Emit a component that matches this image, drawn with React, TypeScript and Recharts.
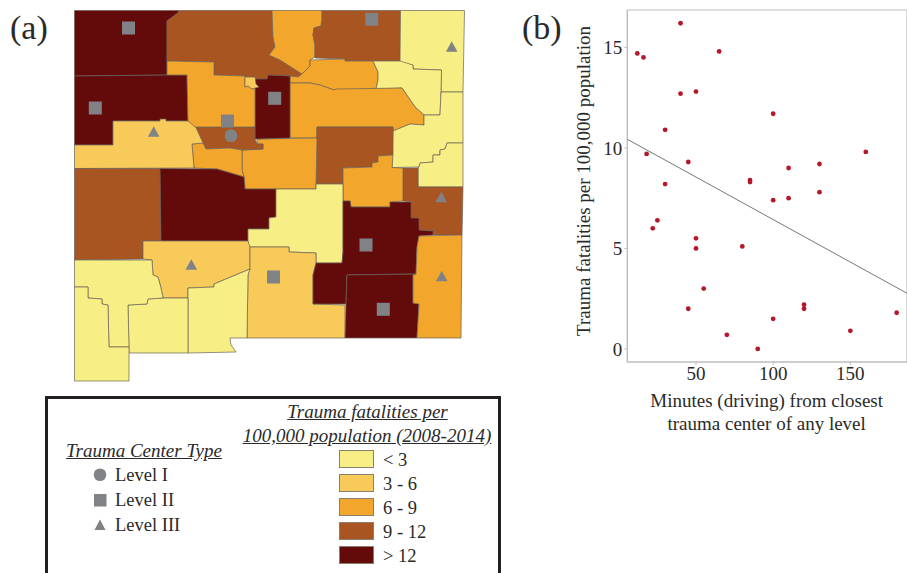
import { ReferenceArea, Scatter, ScatterChart, XAxis, YAxis } from "recharts"

type Pt = [number, number]

const SERIF = "'Liberation Serif', serif"
const INK = "#2a2a2a"
const MARKER = "#808285"

// fatality classes, lowest to highest
const classLabels = ["< 3", "3 - 6", "6 - 9", "9 - 12", "> 12"]
const classColors = ["#F7EF85", "#F8CA5A", "#F3A62C", "#A95522", "#630A0B"]

// county outlines
const sanJuan: Pt[] = [[74.5, 10.5], [179, 10.5], [178, 13], [167, 21], [167, 75], [74.5, 76]]
const rioArriba: Pt[] = [[179, 10.5], [272, 10.5], [273, 37], [275, 47], [269, 55], [280, 60], [302, 74], [298, 77], [290, 76], [268, 75], [267, 79], [255, 79], [245, 79], [245, 76], [214, 75], [214, 62], [167, 61], [167, 21], [178, 13]]
const taos: Pt[] = [[272, 10.5], [322, 10.5], [322, 20], [321, 26], [314, 28], [313, 35], [315, 45], [315, 57], [310, 60], [310, 66], [302, 74], [280, 60], [269, 55], [275, 47], [273, 37]]
const colfax: Pt[] = [[322, 10.5], [400.5, 10.5], [400, 61], [345, 61], [345, 59], [315, 58], [315, 45], [313, 35], [314, 28], [321, 26], [322, 20]]
const union: Pt[] = [[400.5, 10.5], [464.5, 10.5], [463, 92], [441, 92], [441.5, 70], [413, 69], [413, 65], [400, 63]]
const mora: Pt[] = [[310, 60], [345, 59], [345, 61], [373, 61], [378, 72], [378, 80], [376, 89], [336, 90], [334, 90], [320, 85], [310, 83], [290, 83], [290, 76], [298, 77], [302, 74], [310, 66]]
const harding: Pt[] = [[373, 61], [400, 61], [413, 65], [413, 69], [441.5, 70], [441, 92], [440, 115], [424, 115], [415, 107], [402, 88], [376, 89], [378, 80], [378, 72]]
const sanMiguel: Pt[] = [[290, 83], [310, 83], [320, 85], [334, 90], [336, 89], [402, 88], [415, 107], [424, 115], [424, 125], [410, 124], [393, 131], [393, 127], [317, 127], [317, 138], [290, 138]]
const quay: Pt[] = [[441, 92], [463, 92], [463, 143], [447, 143], [445, 149], [440, 150], [440, 155], [433, 155], [433, 162], [420, 163], [419, 167], [392, 167.5], [393, 131], [410, 124], [424, 125], [424, 115], [440, 115]]
const curry: Pt[] = [[447, 143], [463, 143], [463, 187], [418, 187], [418, 168], [419, 167], [420, 163], [433, 162], [433, 155], [440, 155], [440, 150], [445, 149]]
const roosevelt: Pt[] = [[403, 168], [418, 168], [418, 187], [463, 187], [462, 235], [433, 235], [433, 231], [419, 230], [419, 218], [411, 218], [411, 202], [403, 201]]
const deBaca: Pt[] = [[317, 127], [393, 127], [393, 155], [378, 156], [378, 162], [372, 163], [372, 167], [343, 168], [343, 184], [316, 184]]
const guadalupe: Pt[] = [[343, 168], [372, 167], [372, 163], [378, 162], [378, 156], [393, 155], [392, 167.5], [403, 168], [403, 201], [390, 202], [390, 207], [351, 207], [350, 201], [343, 201]]
const torrance: Pt[] = [[257, 139], [317, 138], [316, 184], [316, 189], [245, 189], [244, 177], [242, 170], [242, 150], [263, 149], [263, 144], [257, 144]]
const sandoval: Pt[] = [[255, 79], [267, 79], [268, 75], [290, 76], [290, 138], [257, 139], [255, 139]]
const losAlamos: Pt[] = [[245, 77], [255, 77], [256, 84], [259, 87], [252, 89], [248, 86], [245, 87]]
const bernalillo: Pt[] = [[195, 127], [255, 127], [255, 139], [257, 144], [263, 144], [263, 149], [242, 150], [230, 148], [206, 149], [203, 143]]
const valencia: Pt[] = [[192, 144], [203, 143], [206, 149], [230, 148], [242, 150], [242, 170], [244, 177], [217, 169], [194, 168]]
const mcKinley: Pt[] = [[74.5, 76], [167, 75], [187, 75], [188, 121], [113, 121], [113, 145], [74.5, 145]]
const cibola: Pt[] = [[74.5, 145], [113, 145], [113, 121], [160, 121], [160, 119], [166, 119], [166, 121], [193, 121], [203, 143], [192, 144], [194, 168], [74.5, 168.5]]
const santaFe: Pt[] = [[167, 61], [214, 62], [214, 75], [245, 76], [245, 87], [248, 86], [252, 89], [255, 88], [255, 127], [195, 127], [188, 121], [187, 75], [167, 75]]
const catron: Pt[] = [[74.5, 168.5], [160, 168.5], [161, 241], [143, 241], [143, 259], [74.5, 260]]
const socorro: Pt[] = [[160, 168.5], [217, 169], [244, 177], [245, 189], [276, 189], [276, 217], [269, 218], [269, 229], [248, 229], [248, 241], [161, 241]]
const lincoln: Pt[] = [[276, 189], [316, 189], [316, 184], [343, 184], [343, 252], [342, 263], [316, 263], [316, 253], [289, 252], [289, 247], [248, 247], [248, 229], [269, 229], [269, 218], [276, 217]]
const sierra: Pt[] = [[143, 241], [248, 241], [250, 247], [250, 269], [214, 284], [214, 287], [188, 288], [188, 298], [163, 298], [161, 288], [158, 277], [153, 275], [152, 260], [143, 259]]
const otero: Pt[] = [[250, 247], [289, 247], [289, 252], [316, 253], [316, 263], [313, 275], [313, 304], [345, 305], [345, 338], [247, 338], [248, 275], [250, 269]]
const donaAna: Pt[] = [[188, 288], [214, 287], [214, 284], [250, 269], [248, 275], [247, 338], [230, 338], [231, 345], [236, 352], [188, 353]]
const luna: Pt[] = [[128, 305], [147, 304], [148, 299], [163, 298], [188, 298], [188, 353], [129, 353]]
const grant: Pt[] = [[74.5, 260], [152, 260], [153, 275], [158, 277], [161, 288], [163, 298], [148, 299], [147, 304], [128, 305], [129, 347], [109, 347], [108, 305], [102, 304], [102, 299], [88, 298], [88, 287], [74.5, 287]]
const hidalgo: Pt[] = [[74.5, 287], [88, 287], [88, 298], [102, 299], [102, 304], [108, 305], [109, 347], [129, 347], [129, 381], [74.5, 381]]
const chaves: Pt[] = [[343, 201], [350, 201], [351, 207], [390, 207], [390, 202], [411, 202], [411, 218], [419, 218], [419, 230], [433, 231], [433, 235], [419, 236], [417, 247], [416, 274], [347, 275], [346, 304], [313, 304], [313, 275], [316, 263], [342, 263], [343, 252]]
const eddy: Pt[] = [[347, 275], [416, 274], [413, 275], [413, 303], [419, 304], [417, 338], [345, 338], [346, 304]]
const lea: Pt[] = [[419, 236], [462, 235], [461, 338], [417, 338], [419, 304], [413, 303], [413, 275], [416, 274], [417, 247]]

const counties: [Pt[], number][] = [
  [sanJuan, 4], [rioArriba, 3], [taos, 2], [colfax, 3], [union, 0], [mora, 2], [harding, 0],
  [sanMiguel, 2], [quay, 0], [curry, 0], [roosevelt, 3], [deBaca, 3], [guadalupe, 2],
  [torrance, 2], [sandoval, 4], [bernalillo, 3], [valencia, 2], [mcKinley, 4], [cibola, 1],
  [santaFe, 2], [losAlamos, 1], [catron, 3], [socorro, 4], [lincoln, 0], [sierra, 1], [otero, 1],
  [donaAna, 0], [luna, 0], [grant, 0], [hidalgo, 0], [chaves, 4], [eddy, 4], [lea, 2]
]

// trauma centers
const levelOne: Pt[] = [[231, 135.7]]
const levelTwo: Pt[] = [[128.5, 28], [95.3, 108], [227.5, 121], [274.7, 98.3], [371.7, 19.3], [366, 245], [273.5, 277], [383.3, 309.3]]
const levelThree: Pt[] = [[153.7, 131.5], [451.7, 46.5], [191.3, 264.5], [441.3, 197], [441.7, 276]]

// panel (b)
const minutes = [12, 16, 40, 65, 40, 50, 100, 30, 18, 45, 30, 85, 85, 110, 130, 160, 130, 110, 100, 25, 22, 50, 50, 80, 55, 45, 70, 90, 100, 120, 120, 150, 180]
const fatalities = [14.7, 14.5, 16.2, 14.8, 12.7, 12.8, 11.7, 10.9, 9.7, 9.3, 8.2, 8.4, 8.3, 9.0, 9.2, 9.8, 7.8, 7.5, 7.4, 6.4, 6.0, 5.5, 5.0, 5.1, 3.0, 2.0, 0.7, 0.0, 1.5, 2.2, 2.0, 0.9, 1.8]
const fitMinutes = [5.5, 186.7]
const fitFatalities = [10.43, 2.77]
const xTicks = [50, 100, 150]
const yTicks = [0, 5, 10, 15]
const X_DOMAIN: [number, number] = [5.5, 186.7]
const Y_DOMAIN: [number, number] = [-0.65, 16.86]

const toXY = (pts: Pt[]) => pts.map(([x, y]) => ({ x, y }))
const closed = (pts: Pt[]) => toXY([...pts, pts[0]])

const pointData = minutes.map((x, i) => ({ x, y: fatalities[i] }))
const fitData = fitMinutes.map((x, i) => ({ x, y: fitFatalities[i] }))

const noMark = () => <g />

function SquareMark({ cx, cy }: { cx?: number; cy?: number }) {
  return <rect x={cx! - 6.5} y={cy! - 6.5} width={13} height={13} fill={MARKER} />
}

function CircleMark({ cx, cy }: { cx?: number; cy?: number }) {
  return <circle cx={cx} cy={cy} r={6.4} fill={MARKER} />
}

function TriangleMark({ cx, cy }: { cx?: number; cy?: number }) {
  return <polygon points={`${cx! - 5.8},${cy! + 5.2} ${cx! + 5.8},${cy! + 5.2} ${cx},${cy! - 5.2}`} fill={MARKER} />
}

function RedDot({ cx, cy }: { cx?: number; cy?: number }) {
  return <circle cx={cx} cy={cy} r={2.4} fill="#B5182B" />
}

function XLabel({ viewBox }: { viewBox?: { x: number; width: number } }) {
  const cx = (viewBox?.x ?? 0) + (viewBox?.width ?? 0) / 2 - 0.5
  return (
    <text fontFamily={SERIF} fontSize={19} fill={INK} textAnchor="middle">
      <tspan x={cx} y={407}>Minutes (driving) from closest</tspan>
      <tspan x={cx} y={430}>trauma center of any level</tspan>
    </text>
  )
}

function MapPanel() {
  return (
    <ScatterChart width={510} height={395} margin={{ top: 0, right: 0, bottom: 0, left: 0 }}>
      <XAxis type="number" dataKey="x" domain={[0, 510]} hide />
      <YAxis type="number" dataKey="y" domain={[0, 395]} reversed hide />
      {counties.map(([pts, level], i) => (
        <Scatter
          key={i}
          data={closed(pts)}
          shape={noMark}
          line={{ fill: classColors[level], stroke: "#6b6258", strokeWidth: 0.7 }}
          isAnimationActive={false}
        />
      ))}
      <Scatter data={toXY(levelTwo)} shape={<SquareMark />} isAnimationActive={false} />
      <Scatter data={toXY(levelOne)} shape={<CircleMark />} isAnimationActive={false} />
      <Scatter data={toXY(levelThree)} shape={<TriangleMark />} isAnimationActive={false} />
    </ScatterChart>
  )
}

function ScatterPanel() {
  return (
    <ScatterChart width={397} height={440} margin={{ top: 10, right: 0, bottom: 0, left: 57.3 }}>
      <ReferenceArea x1={X_DOMAIN[0]} x2={X_DOMAIN[1]} y1={Y_DOMAIN[0]} y2={Y_DOMAIN[1]} fill="none" stroke="#bdbdbd" strokeWidth={1.2} />
      <XAxis
        type="number"
        dataKey="x"
        domain={X_DOMAIN}
        ticks={xTicks}
        height={78}
        tickSize={3}
        stroke="#bdbdbd"
        tick={{ fontFamily: SERIF, fontSize: 19, fill: INK }}
        label={<XLabel />}
      />
      <YAxis
        type="number"
        dataKey="y"
        domain={Y_DOMAIN}
        ticks={yTicks}
        width={60}
        tickSize={3}
        stroke="#bdbdbd"
        tick={{ fontFamily: SERIF, fontSize: 19, fill: INK }}
        label={{
          value: "Trauma fatalities per 100,000 population",
          angle: -90,
          position: "insideLeft",
          dx: 11,
          dy: 150,
          fontFamily: SERIF,
          fontSize: 19,
          fill: INK
        }}
      />
      <Scatter data={fitData} shape={noMark} line={{ stroke: "#777777", strokeWidth: 1 }} isAnimationActive={false} />
      <Scatter data={pointData} shape={<RedDot />} isAnimationActive={false} />
    </ScatterChart>
  )
}

const textStyle = { position: "absolute", fontFamily: SERIF, color: INK, whiteSpace: "nowrap", lineHeight: 1 } as const
const swatchTops = [450, 474, 498, 522, 546]
const levelNames = ["Level I", "Level II", "Level III"]
const levelTops = [466, 491, 516]

function MapLegend() {
  const heading = { ...textStyle, fontSize: 19, fontStyle: "italic", textDecoration: "underline", transform: "translateX(-50%)" } as const
  return (
    <>
      <div style={{ position: "absolute", left: 45, top: 396, width: 456, height: 180, boxSizing: "border-box", border: "3.5px solid #231f20" }} />
      <div style={{ ...heading, left: 367.5, top: 402 }}>Trauma fatalities per</div>
      <div style={{ ...heading, left: 367, top: 426 }}>100,000 population (2008-2014)</div>
      <div style={{ ...heading, left: 144, top: 441 }}>Trauma Center Type</div>
      {levelNames.map((name, i) => (
        <div key={name} style={{ ...textStyle, left: 115, top: levelTops[i], fontSize: 18.5 }}>{name}</div>
      ))}
      <svg style={{ position: "absolute", left: 90, top: 465, width: 20, height: 70 }}>
        <circle cx={10} cy={9.7} r={6.3} fill={MARKER} />
        <rect x={4} y={29} width={12.5} height={12.5} fill={MARKER} />
        <polygon points="4.5,65 15.5,65 10,54.5" fill={MARKER} />
      </svg>
      {classLabels.map((label, i) => (
        <div key={label}>
          <div style={{ position: "absolute", left: 339, top: swatchTops[i], width: 35, height: 18, boxSizing: "border-box", background: classColors[i], border: "1px solid #8a8070" }} />
          <div style={{ ...textStyle, left: 383, top: swatchTops[i] + 1, fontSize: 18.5 }}>{label}</div>
        </div>
      ))}
    </>
  )
}

export default function App() {
  return (
    <div style={{ position: "absolute", left: 0, top: 0, width: 907, height: 573, overflow: "hidden", background: "#fff" }}>
      <div style={{ position: "absolute", left: 0, top: 0 }}><MapPanel /></div>
      <div style={{ position: "absolute", left: 510, top: 0 }}><ScatterPanel /></div>
      <div style={{ ...textStyle, left: 10, top: 11, fontSize: 34 }}>(a)</div>
      <div style={{ ...textStyle, left: 522, top: 11, fontSize: 34 }}>(b)</div>
      <MapLegend />
    </div>
  )
}
